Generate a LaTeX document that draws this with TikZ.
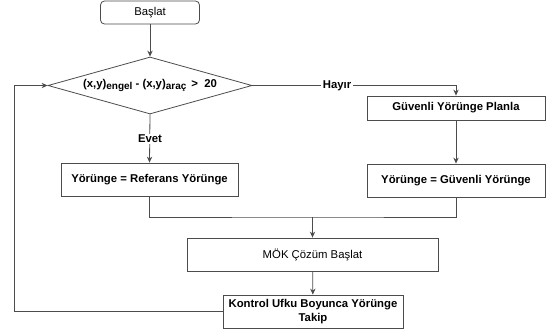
\documentclass[tikz,border=0pt]{standalone}
\usepackage{fontspec}
\setmainfont{Liberation Sans}
\definecolor{edgegray}{gray}{0.30}
\usetikzlibrary{arrows.meta,positioning,shapes.geometric}
\tikzset{
  ln/.style={draw=edgegray,line width=0.6pt},
  arr/.style={ln,-{Stealth[length=4.5pt,width=4pt]}},
  boxB/.style={ln,fill=white,inner sep=1pt,align=center,minimum height=24.75pt,
    font=\fontsize{8.5}{10.5}\selectfont\bfseries},
  boxR/.style={boxB,font=\fontsize{8.5}{10.5}\selectfont},
  startbox/.style={boxR,rounded corners=3pt,minimum width=74.25pt,minimum height=17.25pt},
  decbox/.style={ln,diamond,aspect=3.58,fill=white,inner sep=0pt,minimum width=153pt,minimum height=42.75pt,
    font=\fontsize{8.5}{10.5}\selectfont\bfseries},
  elab/.style={fill=white,inner sep=1pt,font=\fontsize{8.5}{10.5}\selectfont\bfseries},
}
\newcommand{\lowtxt}[1]{\raisebox{-0.45ex}{\fontsize{7.5}{8}\selectfont #1}}

\begin{document}
\begin{tikzpicture}[x=0.75pt,y=-0.75pt]
        \useasboundingbox (0,0) rectangle (553,332);
        % kutular
        \node[startbox] (start) at (150,12.5) {Başlat};
        \node[decbox] (dec) at (150,85.5) {(x,y)\lowtxt{engel} - (x,y)\lowtxt{araç} \,>\ \ 20};
        \node[boxB,minimum width=133.5pt,minimum height=18pt] (plan) at (456,108) {Güvenli Yörünge Planla};
        \node[boxB,minimum width=133.5pt] (safe) at (456,180.5) {Yörünge = Güvenli Yörünge};
        \node[boxB,minimum width=132.75pt] (ref) at (149.5,179.5) {Yörünge = Referans Yörünge};
        \node[boxR,minimum width=188.25pt] (mok) at (312.5,254.5) {MÖK Çözüm Başlat};
        \node[boxB,minimum width=135pt] (track) at (313,311.5) {Kontrol Ufku Boyunca Yörünge\\Takip};
        \coordinate (join) at (312.5,217);
        \coordinate (hr) at (456,85.5);
        \coordinate (lpb) at (14,311.5);
        \coordinate (lpt) at (14,85.5);
        % baglantilar
        \draw[arr] (start) -- (dec);
        \draw[arr] (dec.east) -- (hr) -- (plan.north);
        \node[elab] (no) at (337,85.5) {Hayır};
        \draw[arr] (dec.south) -- (ref.north);
        \node[elab] (yes) at (150,139) {Evet};
        \draw[arr] (plan) -- (safe);
        \draw[ln] (ref.south) |- (join) -| (safe.south);
        \draw[arr] (join) -- (mok.north);
        \draw[arr] (mok) -- (track);
        \draw[arr] (track.west) -- (lpb) -- (lpt) -- (dec.west);
      \end{tikzpicture}
\end{document}
